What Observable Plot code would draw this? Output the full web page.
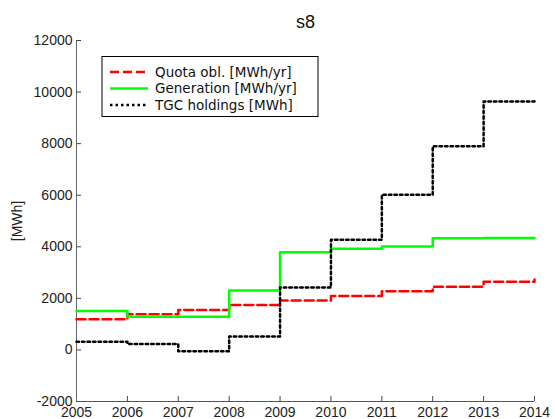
<!DOCTYPE html>
<html><head><meta charset="utf-8">
<script src="https://cdn.jsdelivr.net/npm/d3@7"></script>
<script src="https://cdn.jsdelivr.net/npm/@observablehq/plot@0.6"></script>
<style>body{margin:0;background:#fff}</style>
</head><body><div id="chart"></div>
<script>
const title = "s8";
const yLabel = "[MWh]";
const years = [2005, 2006, 2007, 2008, 2009, 2010, 2011, 2012, 2013, 2014];
const quota = [1190, 1380, 1550, 1740, 1920, 2090, 2280, 2450, 2640, 2730];
const generation = [1510, 1290, 1290, 2300, 3790, 3920, 4010, 4330, 4340, 4340];
const tgc = [320, 230, -50, 520, 2420, 4270, 6020, 7900, 9630, 9680];
const xTicks = [2005, 2006, 2007, 2008, 2009, 2010, 2011, 2012, 2013, 2014];
const yTicks = [-2000, 0, 2000, 4000, 6000, 8000, 10000, 12000];
const seriesNames = ["Quota obl. [MWh/yr]", "Generation [MWh/yr]", "TGC holdings [MWh]"];
const seriesColors = ["#ff0000", "#00ff00", "#000000"];
const seriesDash = ["9,4", null, "2.5,3"];
const seriesValues = [quota, generation, tgc];

const rows = seriesValues.map((vals, s) => years.map((yr, i) => ({year: yr, value: vals[i], series: seriesNames[s]})));

const plot = Plot.plot({
  width: 555, height: 419,
  marginLeft: 76, marginRight: 21, marginTop: 40, marginBottom: 18,
  style: {fontFamily: '"Liberation Sans", Arial, sans-serif', fontSize: "14px", color: "#222", background: "#fff", overflow: "visible"},
  x: {domain: [2005, 2014]},
  y: {domain: [-2000, 12000]},
  marks: [
    Plot.axisX(xTicks, {tickSize: -5, tickPadding: 11, tickFormat: d => String(d), label: null, stroke: "#444"}),
    Plot.axisY(yTicks, {tickSize: -5, tickPadding: 9, tickFormat: d => String(d), stroke: "#444",
      label: yLabel, labelAnchor: "center", labelArrow: "none", labelOffset: 64}),
    Plot.ruleX([2005], {stroke: "#666"}),
    Plot.ruleY([-2000], {stroke: "#555"}),
    ...rows.map((r, s) => Plot.line(r, {x: "year", y: "value", curve: "step-after",
      stroke: seriesColors[s], strokeWidth: 2.5, strokeDasharray: seriesDash[s]})),
    Plot.text([title], {frameAnchor: "top", lineAnchor: "middle", dy: -18.5, fontSize: 18, fill: "#111"})
  ]
});
document.getElementById("chart").appendChild(plot);

// Legend
const svg = d3.select(plot);
const lg = svg.append("g").attr("text-anchor", "start");
lg.append("rect").attr("x", 102).attr("y", 56.5).attr("width", 216).attr("height", 60)
  .attr("fill", "#fff").attr("stroke", "#000").attr("stroke-width", 1);
const rowY = [72, 88.5, 105];
seriesNames.forEach((name, i) => {
  lg.append("line").attr("x1", 110).attr("x2", 148).attr("y1", rowY[i]).attr("y2", rowY[i])
    .attr("stroke", seriesColors[i]).attr("stroke-width", 2.5)
    .attr("stroke-dasharray", seriesDash[i]);
  lg.append("text").attr("x", 155).attr("y", rowY[i]).attr("dy", "0.35em")
    .attr("text-anchor", "start")
    .attr("font-family", '"DejaVu Sans", Verdana, sans-serif').attr("font-size", 13.5)
    .attr("fill", "#111").text(name);
});
</script>
</body></html>
